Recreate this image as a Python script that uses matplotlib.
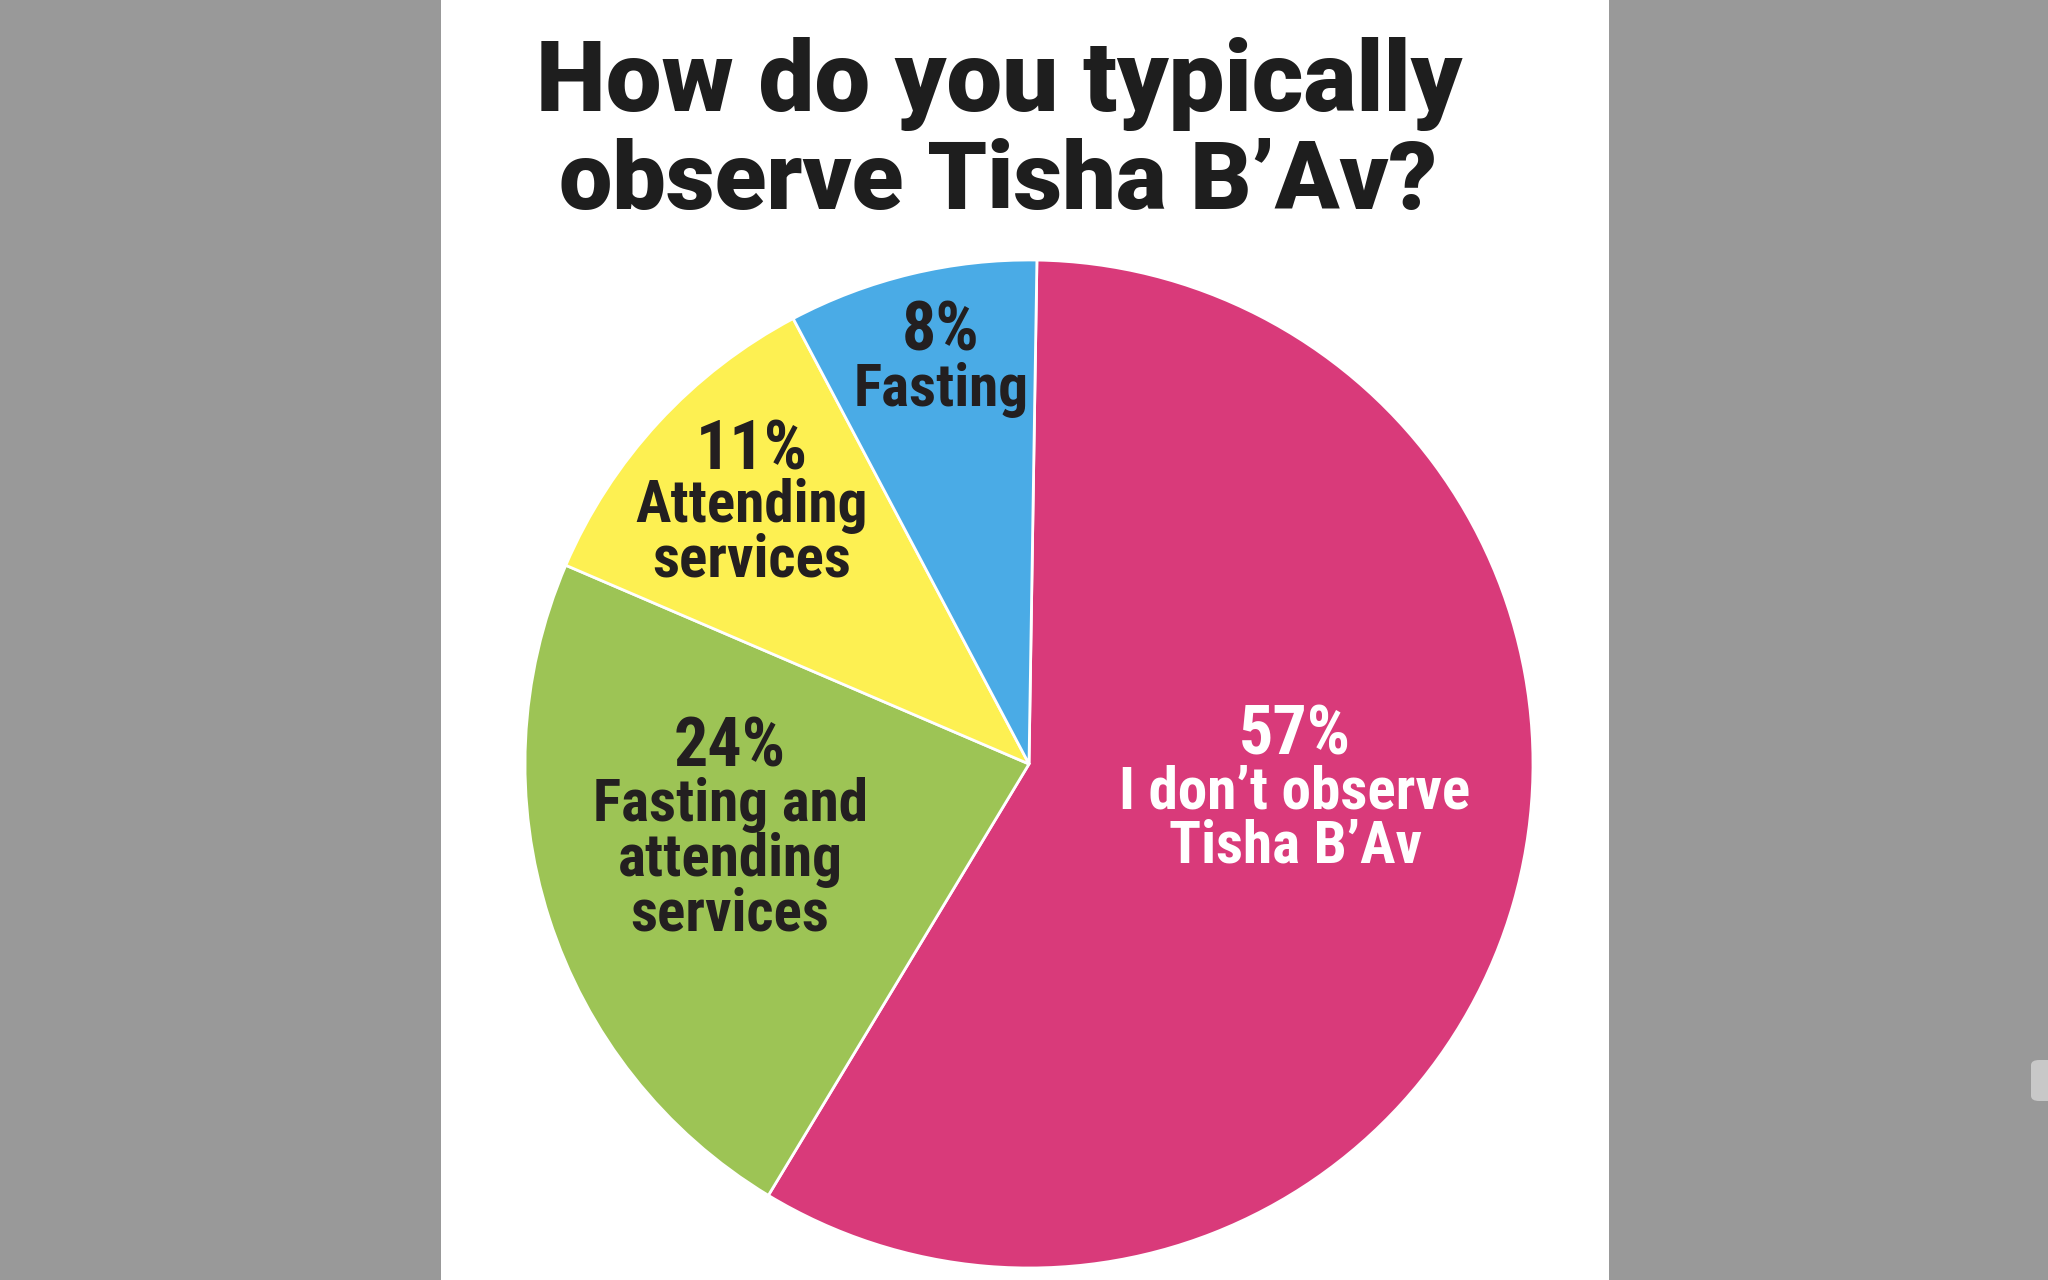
import matplotlib
matplotlib.use("Agg")
import matplotlib.pyplot as plt
from matplotlib import font_manager
from matplotlib.font_manager import FontProperties
from matplotlib.patches import FancyBboxPatch, Rectangle

# ---------------------------------------------------------------------------
# data (slice sizes read off the drawn wedges, labels as printed)
# ---------------------------------------------------------------------------
categories = ["I don’t observe\nTisha B’Av", "Fasting and\nattending\nservices",
              "Attending\nservices", "Fasting"]
pct_labels = ["57%", "24%", "11%", "8%"]
shares = [58.4, 22.8, 10.8, 8.0]

colors = ["#D93A7A", "#9DC455", "#FDF052", "#4AABE6"]
text_colors = ["white", "#231F20", "#231F20", "#231F20"]

# label anchor positions in pie units (radius = 1): (x, y_pct, y_desc)
label_pos = [(0.528, 0.056, -0.110),
             (-0.593, 0.032, -0.190),
             (-0.550, 0.622, 0.458),
             (-0.175, 0.857, 0.742)]


def _stretch(f):
    s = f.stretch
    return s if isinstance(s, int) else font_manager.stretch_dict.get(s, 500)


def _weight(f):
    w = f.weight
    return w if isinstance(w, int) else font_manager.weight_dict.get(w, 400)


def pick_face(prefs, wmin, wmax, condensed):
    """Return a FontProperties for the first installed face matching the request."""
    faces = font_manager.fontManager.ttflist
    for name in prefs:
        for f in faces:
            if not f.name.startswith(name):
                continue
            narrow = _stretch(f) < 500 or "Condensed" in f.name or "Narrow" in f.name
            if narrow == condensed and wmin <= _weight(f) <= wmax and f.style == "normal":
                return FontProperties(fname=f.fname)
    return FontProperties(family="DejaVu Sans", weight="bold")


title_fp = pick_face(["Roboto", "Lato", "Inter", "Open Sans", "Noto Sans"], 850, 1000, False)
label_fp = pick_face(["Roboto", "Liberation Sans Narrow", "Open Sans", "Noto Sans"], 600, 700, True)

W, H, DPI = 2048, 1280, 100
fig = plt.figure(figsize=(W / DPI, H / DPI), dpi=DPI)
fig.patch.set_facecolor("#999999")
renderer = fig.canvas.get_renderer()


def fit_width(t, target_px):
    """Scale a text's font size so its rendered width is target_px."""
    w = t.get_window_extent(renderer).width
    t.set_fontsize(t.get_fontsize() * target_px / w)


# white page strip
fig.patches.append(Rectangle((441 / W, 0), (1609 - 441) / W, 1,
                             transform=fig.transFigure, facecolor="white",
                             edgecolor="none", zorder=-2))
# little scroll handle on the right edge
fig.patches.append(FancyBboxPatch((2031 / W, (H - 1101) / H), 40 / W, 41 / H,
                                  boxstyle="round,pad=0,rounding_size=0.004",
                                  transform=fig.transFigure, facecolor="#C8C8C8",
                                  edgecolor="none", zorder=-2))

t1 = fig.text(999 / W, 1 - 111 / H, "How do you typically", fontproperties=title_fp,
              color="#1E1E1E", ha="center", va="baseline", fontsize=66)
t2 = fig.text(998 / W, 1 - 209 / H, "observe Tisha B’Av?", fontproperties=title_fp,
              color="#1E1E1E", ha="center", va="baseline", fontsize=66)
fit_width(t1, 927)
fit_width(t2, 878)

# pie axes: centre (1029, 764) px, radius 504 px
cx, cy, r = 1029, 764, 504
ax = fig.add_axes([(cx - r) / W, (H - cy - r) / H, 2 * r / W, 2 * r / H])
ax.set_zorder(2)
ax.patch.set_visible(False)
ax.pie(shares, colors=colors, startangle=89.1, counterclock=False, radius=1,
       wedgeprops=dict(edgecolor="white", linewidth=2.0))
ax.set_xlim(-1, 1)
ax.set_ylim(-1, 1)
ax.set_aspect("equal")
ax.axis("off")

pct_texts, desc_texts = [], []
for cat, pct, tc, (x, yp, yd) in zip(categories, pct_labels, text_colors, label_pos):
    pct_texts.append(ax.text(x, yp, pct, ha="center", va="center", fontsize=47,
                             fontproperties=label_fp, color=tc))
    desc_texts.append(ax.text(x, yd, cat, ha="center", va="center", fontsize=34,
                              fontproperties=label_fp, color=tc, linespacing=0.97))

# size labels from the widths measured on the reference ("57%", "I don't observe")
fit_width(pct_texts[0], 112)
fit_width(desc_texts[0], 351)
for t in pct_texts[1:]:
    t.set_fontsize(pct_texts[0].get_fontsize())
for t in desc_texts[1:]:
    t.set_fontsize(desc_texts[0].get_fontsize())

fig.savefig("out.png", dpi=DPI, facecolor=fig.get_facecolor())
plt.close(fig)
